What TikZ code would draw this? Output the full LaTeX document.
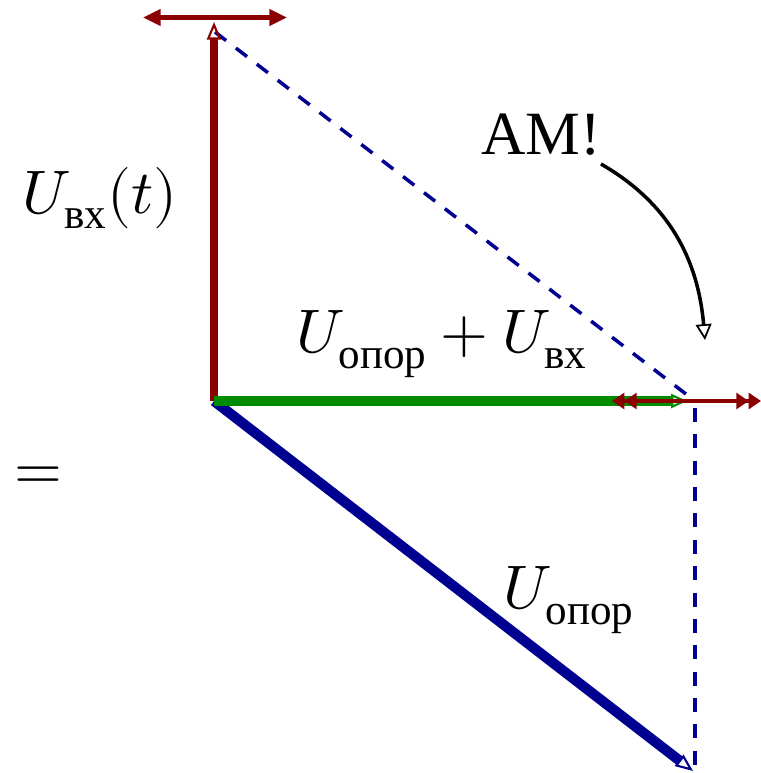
\documentclass[tikz,border=0pt]{standalone}
\usepackage{amsmath}
\usepackage{fontspec}
\usepackage{unicode-math}
\setmainfont{Liberation Serif}
\setmathfont{Latin Modern Math}
\usetikzlibrary{arrows.meta}
\definecolor{VecRed}{HTML}{8B0000}
\definecolor{VecGreen}{HTML}{008C00}
\definecolor{VecBlue}{HTML}{000090}

\begin{document}
\begin{tikzpicture}[
      vecred/.style={draw=VecRed,line width=4.8pt,
        -{Triangle[open,length=10pt,width=8pt,line width=1.2pt]}},
      vecgreen/.style={draw=VecGreen,line width=5.8pt,
        -{Triangle[open,length=9pt,width=8pt,line width=1.2pt]}},
      vecblue/.style={draw=VecBlue,line width=5.8pt,
        -{Triangle[open,length=10pt,width=8pt,line width=1.2pt]}},
      swing/.style={draw=VecRed,line width=2.5pt},
      helper/.style={draw=VecBlue,line width=2pt,dash pattern=on 8pt off 7pt},
      label/.style={font=\fontsize{35}{40}\selectfont,inner sep=0pt}
    ]
    \useasboundingbox (0,0) rectangle (15.22,15.46);

    \coordinate (o) at (4.28,7.44);
    \coordinate (top) at (4.28,15.02);
    \coordinate (sum) at (13.74,7.44);
    \coordinate (tip) at (13.86,0.04);

    % swing of the input signal
    \coordinate (topl) at (2.86,15.11);
    \coordinate (topr) at (5.74,15.11);
    \coordinate (suml) at (12.24,7.44);
    \coordinate (sumr) at (15.22,7.44);

    % helper lines
    \draw[helper] (4.30,14.82) -- (13.9,7.44);
    \draw[helper] (13.9,7.30) -- (13.9,0);

    % vectors
    \draw[vecred] (o) -- (top);
    \draw[vecblue] (o) -- (tip);
    \draw[vecgreen] (o) -- (sum);
    \draw[swing,{Triangle[length=10pt,width=9pt]}-{Triangle[length=10pt,width=9pt]}]
      (topl) -- (topr);
    \draw[swing,{Triangle[length=7pt,width=9pt]Triangle[length=7pt,width=9pt]}-%
      {Triangle[length=7pt,width=9pt]Triangle[length=7pt,width=9pt]}]
      (suml) -- (sumr);

    % labels
    \node[label] (uin) at (2.0,11.50) {$U_{\text{вх}}(t)$};
    \node[label] (am) at (10.82,12.76) {АМ!};
    \node[label] (usum) at (8.84,8.58) {$U_{\text{опор}}+U_{\text{вх}}$};
    \node[label] (eq) at (0.76,5.90) {$=$};
    \node[label] (uref) at (11.38,3.46) {$U_{\text{опор}}$};

    \coordinate (amfrom) at (12.02,12.18);
    \coordinate (amto) at (14.1,8.66);
    \draw[line width=2pt,-{Triangle[open,length=9pt,width=9pt,line width=1pt]}]
      (amfrom) to[out=-30,in=95] (amto);
  \end{tikzpicture}
\end{document}
